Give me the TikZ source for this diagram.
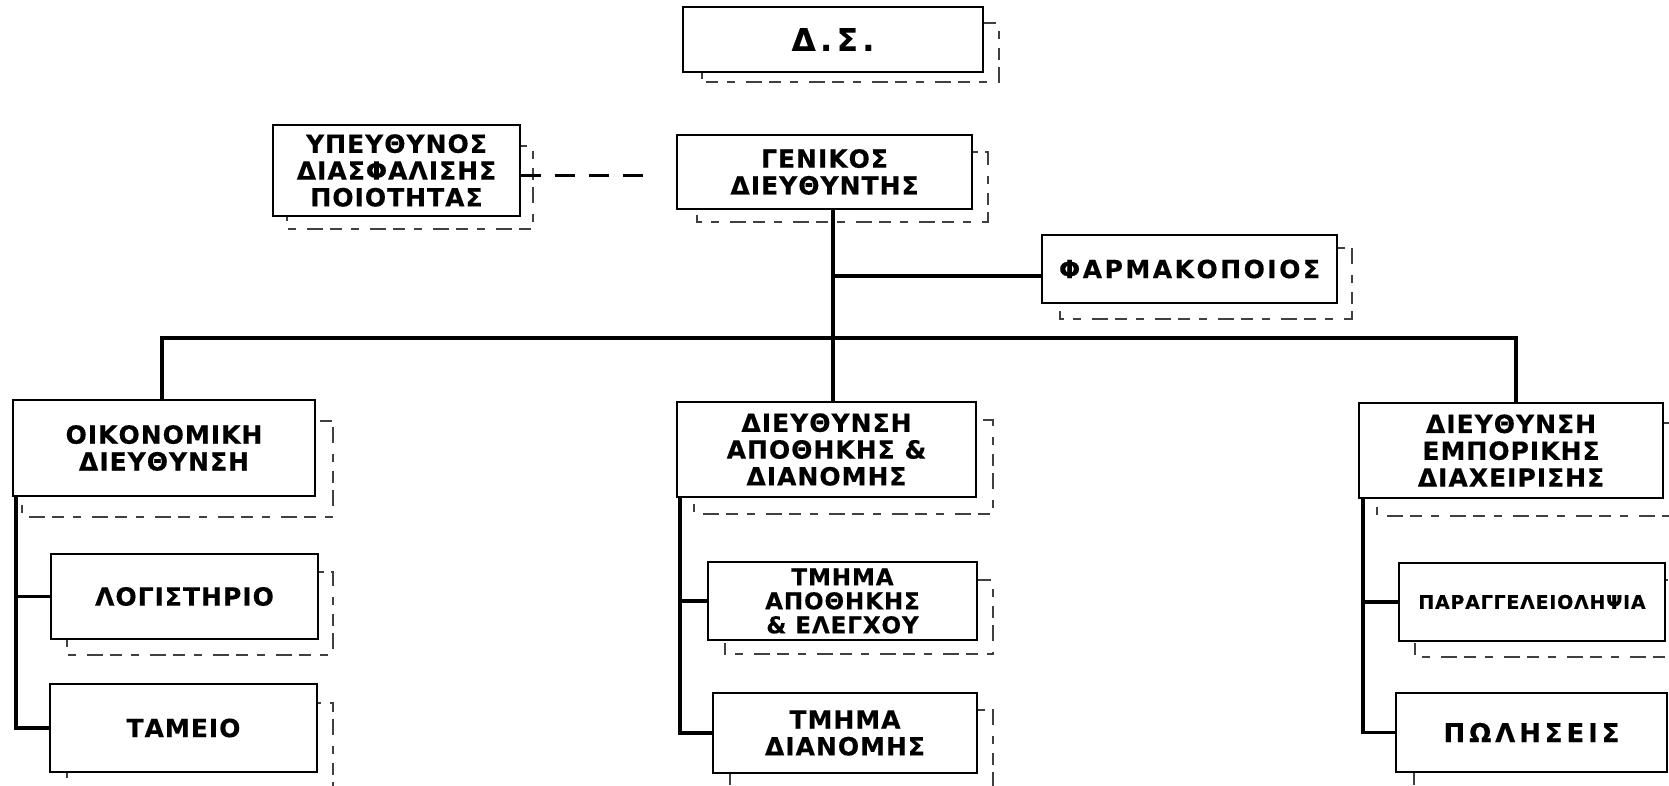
\documentclass[tikz,border=0pt]{standalone}
\usepackage{fontspec}
\setmainfont{DejaVu Sans}
\newfontfamily\orgfont[LetterSpace=4,FakeBold=0.4]{DejaVu Sans}
\newfontfamily\orgfontw[LetterSpace=10,FakeBold=0.4]{DejaVu Sans}
\newfontfamily\orgfontds[LetterSpace=15,FakeBold=0.4]{DejaVu Sans}
\begin{document}
\begin{tikzpicture}[x=1pt,y=-1pt,
  box/.style={draw=black, line width=1.6pt, fill=white, rectangle, inner sep=0pt, align=center,
    font=\orgfont\bfseries\fontsize{25}{26.8}\selectfont},
  wide/.style={font=\orgfontw\bfseries\fontsize{25}{26.8}\selectfont},
  shad/.style={draw=black!75, line width=1.1pt, dash pattern=on 12pt off 9pt on 8pt off 11pt on 16pt off 7pt},
  conn/.style={line width=3.4pt},
  qaline/.style={line width=2.2pt, dash pattern=on 20pt off 14pt}]
\useasboundingbox (0,0) rectangle (1669,786);
\clip (0,0) rectangle (1669,786);
% shadows
\draw[shad] (702,23) rectangle (999,82);
\draw[shad] (697,152) rectangle (988,222);
\draw[shad] (287,146) rectangle (533,229);
\draw[shad] (1060,248) rectangle (1352,319);
\draw[shad] (22,421) rectangle (333,517);
\draw[shad] (67,572) rectangle (333,655);
\draw[shad] (67,703) rectangle (333,795);
\draw[shad] (694,420) rectangle (993,514);
\draw[shad] (725,580) rectangle (993,654);
\draw[shad] (730,710) rectangle (993,795);
\draw[shad] (1377,423) rectangle (1685,516);
\draw[shad] (1415,580) rectangle (1685,657);
\draw[shad] (1414,710) rectangle (1685,795);
% boxes
\node[box, minimum width=300pt, minimum height=65pt, font=\orgfontds\bfseries\fontsize{31}{32}\selectfont] (ds) at (833,39.5) {Δ.Σ.};
\node[box, minimum width=295pt, minimum height=74pt] (gm) at (824.5,172) {ΓΕΝΙΚΟΣ\\ΔΙΕΥΘΥΝΤΗΣ};
\node[box, minimum width=247pt, minimum height=91pt] (qa) at (396.5,170.5) {ΥΠΕΥΘΥΝΟΣ\\ΔΙΑΣΦΑΛΙΣΗΣ\\ΠΟΙΟΤΗΤΑΣ};
\node[box, wide, minimum width=295pt, minimum height=68pt] (ph) at (1189.5,269) {ΦΑΡΜΑΚΟΠΟΙΟΣ};
\node[box, minimum width=302pt, minimum height=96pt] (fin) at (164,448) {ΟΙΚΟΝΟΜΙΚΗ\\ΔΙΕΥΘΥΝΣΗ};
\node[box, minimum width=267pt, minimum height=85pt] (acc) at (184.5,596.5) {ΛΟΓΙΣΤΗΡΙΟ};
\node[box, minimum width=267pt, minimum height=88pt] (cash) at (183.5,728) {ΤΑΜΕΙΟ};
\node[box, minimum width=299pt, minimum height=95pt] (wh) at (826.5,449.5) {ΔΙΕΥΘΥΝΣΗ\\ΑΠΟΘΗΚΗΣ \&\\ΔΙΑΝΟΜΗΣ};
\node[box, minimum width=269pt, minimum height=78pt, font=\orgfont\bfseries\fontsize{23}{24}\selectfont] (whd) at (842.5,601) {ΤΜΗΜΑ\\ΑΠΟΘΗΚΗΣ\\\& ΕΛΕΓΧΟΥ};
\node[box, minimum width=264pt, minimum height=80pt] (dist) at (845,733) {ΤΜΗΜΑ\\ΔΙΑΝΟΜΗΣ};
\node[box, minimum width=304pt, minimum height=95pt] (com) at (1511,450.5) {ΔΙΕΥΘΥΝΣΗ\\ΕΜΠΟΡΙΚΗΣ\\ΔΙΑΧΕΙΡΙΣΗΣ};
\node[box, minimum width=266pt, minimum height=78pt, font=\orgfont\bfseries\fontsize{19}{20}\selectfont] (ord) at (1532,602) {ΠΑΡΑΓΓΕΛΕΙΟΛΗΨΙΑ};
\node[box, minimum width=271pt, minimum height=79pt, font=\orgfontds\bfseries\fontsize{26}{28}\selectfont] (sales) at (1531.5,732.5) {ΠΩΛΗΣΕΙΣ};
% connectors
\coordinate (bus) at (833,338);
\coordinate (busL) at (162,338);
\coordinate (busR) at (1516,338);
\coordinate (phj) at (833,276);
\coordinate (tL) at (16,0);
\coordinate (tM) at (680,0);
\coordinate (tR) at (1363,0);
\draw[conn] (gm.south -| bus) -- (wh.north -| bus);
\draw[conn] (phj) -- (phj -| ph.west);
\draw[conn] (fin.north -| busL) -- (busL) -- (busR) -- (com.north -| busR);
\draw[conn] (fin.south -| tL) |- (acc.west);
\draw[conn] (fin.south -| tL) |- (cash.west);
\draw[conn] (wh.south -| tM) |- (whd.west);
\draw[conn] (wh.south -| tM) |- (dist.west);
\draw[conn] (com.south -| tR) |- (ord.west);
\draw[conn] (com.south -| tR) |- (sales.west);
\coordinate (qaR) at ([yshift=-5pt]qa.east);
\draw[qaline, shorten >=20pt] (qaR) -- (qaR -| gm.west);
\end{tikzpicture}
\end{document}
